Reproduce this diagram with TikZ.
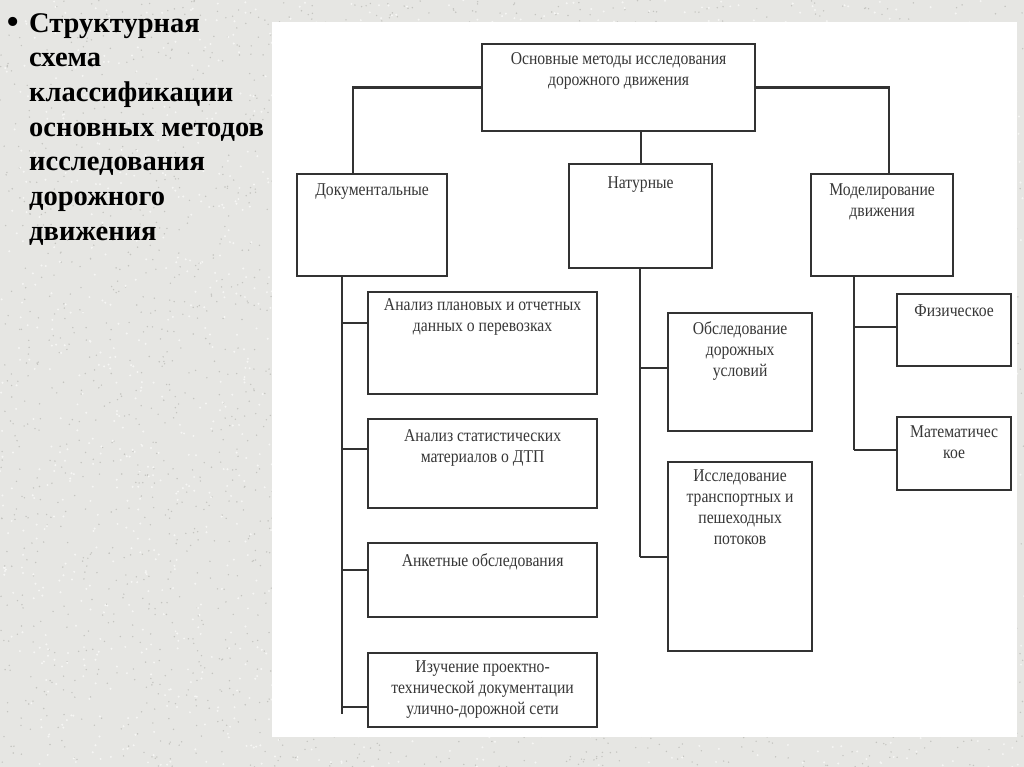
\documentclass[tikz,border=0pt]{standalone}
\usepackage{fontspec}
\setmainfont{Liberation Serif}
\newfontfamily\diagfont[FakeStretch=0.87]{Liberation Serif}
\definecolor{bggray}{RGB}{230,230,227}
\definecolor{specka}{RGB}{196,196,192}
\definecolor{speckb}{RGB}{246,246,244}
\definecolor{linegray}{RGB}{50,50,50}
\definecolor{txtgray}{RGB}{55,55,55}
\begin{document}
\begin{tikzpicture}[x=1pt,y=-1pt,
  box/.style={draw=linegray, line width=2.2pt, rectangle, inner sep=0pt, anchor=north west},
  lbl/.style={font=\diagfont\fontsize{18}{21}\selectfont, text=txtgray, align=center, anchor=north, inner sep=0pt},
  conn/.style={draw=linegray, line width=2.2pt},
  title/.style={font=\fontsize{28.5}{34.7}\selectfont\bfseries, align=left, inner sep=0pt, anchor=north west},
]
\useasboundingbox (0,0) rectangle (1024,767);
\fill[bggray] (0,0) rectangle (1024,767);
\pgfmathsetseed{7}
\foreach \i in {1,...,3500}{
  \pgfmathsetmacro{\px}{rnd*1024}
  \pgfmathsetmacro{\py}{rnd*767}
  \fill[specka] (\px,\py) circle (0.8);
}
\foreach \i in {1,...,2500}{
  \pgfmathsetmacro{\px}{rnd*1024}
  \pgfmathsetmacro{\py}{rnd*767}
  \fill[speckb] (\px,\py) circle (1.1);
}
\fill[white] (272,22) rectangle (1017,737);

% title
\node[font=\fontsize{38}{38}\selectfont, inner sep=0pt] (bullet) at (13,26) {•};
\node[title] (title) at (29,13) {Структурная\\схема\\классификации\\основных методов\\исследования\\дорожного\\движения};

% level 0
\node[box, minimum width=273, minimum height=87,
  label={[lbl, yshift=-9pt]north:{Основные методы исследования\\дорожного движения}}] (top) at (481,43) {};
% level 1
\node[box, minimum width=150, minimum height=102,
  label={[lbl, yshift=-10.5pt]north:{Документальные}}] (docs) at (296,173) {};
\node[box, minimum width=143, minimum height=104,
  label={[lbl, yshift=-13.5pt]north:{Натурные}}] (nat) at (568,163) {};
\node[box, minimum width=142, minimum height=102,
  label={[lbl, yshift=-10.5pt]north:{Моделирование\\движения}}] (mod) at (810,173) {};
% documentary children
\node[box, minimum width=229, minimum height=102,
  label={[lbl, yshift=-7.5pt]north:{Анализ плановых и отчетных\\данных о перевозках}}] (d1) at (367,291) {};
\node[box, minimum width=229, minimum height=89,
  label={[lbl, yshift=-11.5pt]north:{Анализ статистических\\материалов о ДТП}}] (d2) at (367,418) {};
\node[box, minimum width=229, minimum height=74,
  label={[lbl, yshift=-11.5pt]north:{Анкетные обследования}}] (d3) at (367,542) {};
\node[box, minimum width=229, minimum height=74,
  label={[lbl, yshift=-8.5pt]north:{Изучение проектно-\\технической документации\\улично-дорожной сети}}] (d4) at (367,652) {};
% natural children
\node[box, minimum width=144, minimum height=118,
  label={[lbl, yshift=-9.5pt]north:{Обследование\\дорожных\\условий}}] (n1) at (667,312) {};
\node[box, minimum width=144, minimum height=189,
  label={[lbl, yshift=-8.5pt]north:{Исследование\\транспортных и\\пешеходных\\потоков}}] (n2) at (667,461) {};
% modelling children
\node[box, minimum width=114, minimum height=72,
  label={[lbl, yshift=-11.5pt]north:{Физическое}}] (m1) at (896,293) {};
\node[box, minimum width=114, minimum height=73,
  label={[lbl, yshift=-9.5pt]north:{Математичес\\кое}}] (m2) at (896,416) {};

% top connectors
\draw[conn] (top.west) -| ([xshift=-19pt]docs.north);
\draw[conn] (top.east) -| ([xshift=7pt]mod.north);
\draw[conn] (nat.north) -- (nat.north |- top.south);

% documentary trunk
\coordinate (dt) at ([xshift=-30pt]docs.south);
\coordinate (d1b) at ([yshift=20pt]d1.west);
\coordinate (d2b) at ([yshift=14.5pt]d2.west);
\coordinate (d3b) at ([yshift=10pt]d3.west);
\coordinate (d4b) at ([yshift=-17pt]d4.west);
\coordinate (dend) at ([yshift=-7pt]d4b -| dt);
\draw[conn] (dt) -- (dend);
\draw[conn] (d1b) -- (d1b -| dt);
\draw[conn] (d2b) -- (d2b -| dt);
\draw[conn] (d3b) -- (d3b -| dt);
\draw[conn] (d4b) -- (d4b -| dt);

% natural trunk
\coordinate (nt) at ([xshift=-1pt]nat.south);
\coordinate (n1b) at ([yshift=4pt]n1.west);
\draw[conn] (nt) -- (n2.west -| nt);
\draw[conn] (n1b) -- (n1b -| nt);
\draw[conn] (n2.west) -- (n2.west -| nt);

% modelling trunk
\coordinate (mt) at ([xshift=-28pt]mod.south);
\coordinate (m1b) at ([yshift=3pt]m1.west);
\coordinate (m2b) at ([yshift=3.5pt]m2.west);
\draw[conn] (mt) -- (m2b -| mt);
\draw[conn] (m1b) -- (m1b -| mt);
\draw[conn] (m2b) -- (m2b -| mt);
\end{tikzpicture}
\end{document}
